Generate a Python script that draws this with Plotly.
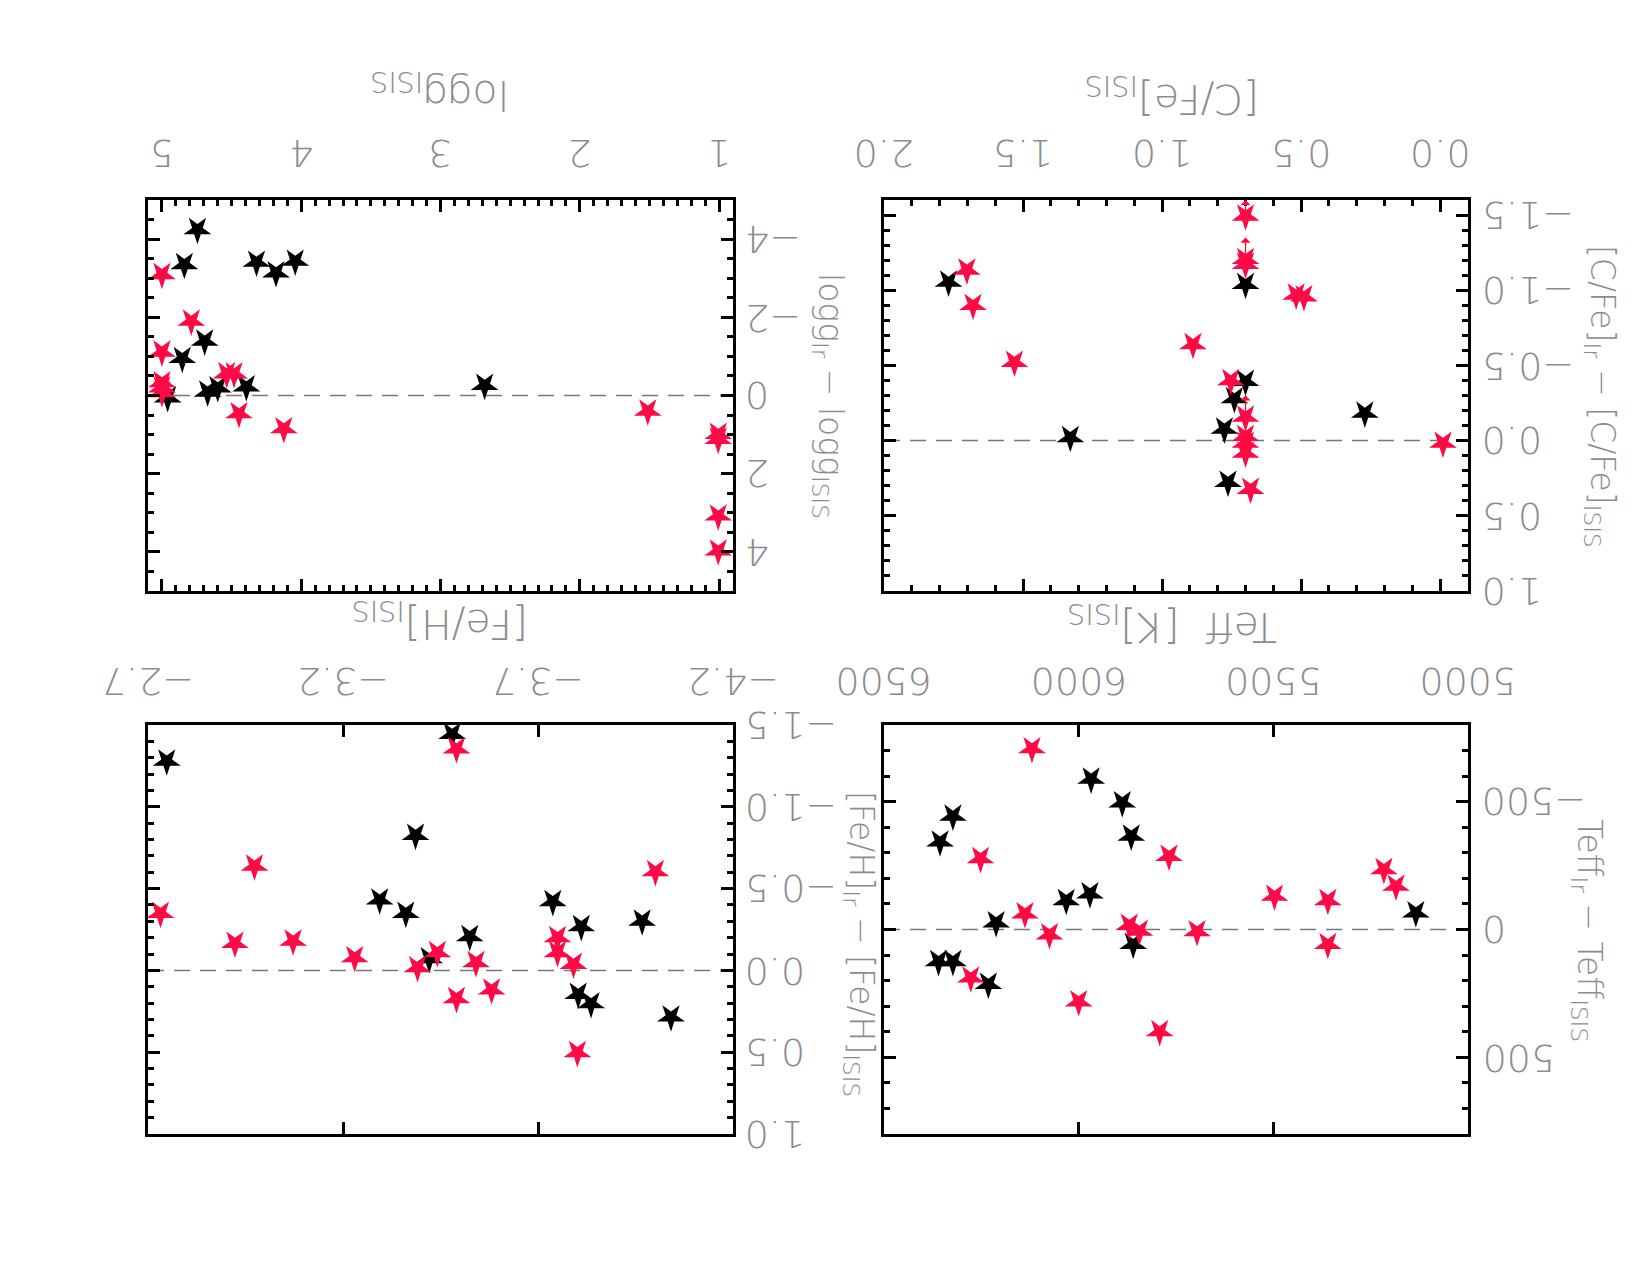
import plotly.graph_objects as go

# ---------------- data ----------------
# Panel A: [C/Fe]
cfe_black_x = [1.768, 0.700, 0.700, 0.740, 0.271, 0.776, 1.330, 0.763]
cfe_black_y = [-1.053, -1.038, -0.393, -0.278, -0.182, -0.076, -0.020, 0.278]
cfe_red_x = [1.702, 1.680, 1.531, 0.889, 0.700, 0.700, 0.700, 0.518, 0.490, 0.753,
             0.700, 0.700, 0.700, 0.700, 0.682, -0.010]
cfe_red_y = [-1.133, -0.898, -0.520, -0.638, -1.493, -1.204, -1.171, -0.967, -0.956, -0.398,
             -0.156, -0.027, 0.018, 0.084, 0.324, 0.018]
# upper-limit arrows (x, from y, to y)
cfe_lim_x = [0.700, 0.700, 0.700, 0.700]
cfe_lim_from = [-1.493, -1.171, 0.084, 0.018]
cfe_lim_to = [-1.60, -1.35, -0.30, -0.07]

# Panel B: log g
logg_black_x = [4.745, 4.839, 4.321, 4.181, 4.043, 4.693, 4.854, 4.672, 4.599, 4.394, 4.959, 2.683]
logg_black_y = [-4.242, -3.348, -3.407, -3.135, -3.433, -1.388, -0.945, -0.085, -0.196, -0.221, 0.060, -0.256]
logg_red_x = [5.0, 4.789, 5.0, 5.0, 5.0, 5.0, 4.535, 4.482, 4.447, 4.125, 1.512, 1.006, 1.006, 1.006, 1.006]
logg_red_y = [-3.092, -1.899, -1.107, -0.324, -0.196, -0.070, -0.554, -0.554, 0.468, 0.852, 0.400,
              0.997, 1.124, 3.083, 3.978]

# Panel C: Teff
teff_black_x = [6356, 6323, 5968, 5888, 5865, 5971, 6032, 6212, 5134, 5860, 6360, 6323, 6232]
teff_black_y = [-342, -443, -588, -495, -365, -139, -113, -26, -65, 59, 126, 126, 215]
teff_red_x = [6120, 6252, 5768, 6138, 6075, 5870, 5844, 5696, 5497, 5360, 5360, 5216, 5185, 6277, 6000, 5792]
teff_red_y = [-707, -277, -286, -61, 21, -16, 7, 9, -130, -113, 59, -234, -169, 190, 283, 400]

# Panel D: [Fe/H]
feh_black_x = [-2.748, -3.480, -3.386, -3.294, -3.361, -3.525, -3.421, -3.738, -3.811, -3.967, -3.803, -3.836, -4.041]
feh_black_y = [-1.279, -1.442, -0.825, -0.430, -0.348, -0.206, -0.071, -0.420, -0.267, -0.301, 0.147, 0.204, 0.285]
feh_red_x = [-3.491, -2.973, -2.732, -2.923, -3.072, -3.230, -3.391, -3.442, -3.541, -3.491, -3.581,
             -3.750, -3.750, -3.791, -4.001, -3.801]
feh_red_y = [-1.354, -0.637, -0.348, -0.165, -0.179, -0.077, -0.016, -0.108, -0.047, 0.173, 0.120,
             -0.200, -0.108, -0.037, -0.603, 0.503]

# tick values and labels
cfe_xticks = [0.0, 0.5, 1.0, 1.5, 2.0]
cfe_xlabels = ["0.0", "0.5", "1.0", "1.5", "2.0"]
cfe_yticks = [-1.5, -1.0, -0.5, 0.0, 0.5, 1.0]
cfe_ylabels = ["−1.5", "−1.0", "−0.5", "0.0", "0.5", "1.0"]
logg_xticks = [1, 2, 3, 4, 5]
logg_xlabels = ["1", "2", "3", "4", "5"]
logg_yticks = [-4, -2, 0, 2, 4]
logg_ylabels = ["−4", "−2", "0", "2", "4"]
teff_xticks = [5000, 5500, 6000, 6500]
teff_xlabels = ["5000", "5500", "6000", "6500"]
teff_yticks = [-500, 0, 500]
teff_ylabels = ["−500", "0", "500"]
feh_xticks = [-4.2, -3.7, -3.2, -2.7]
feh_xlabels = ["−4.2", "−3.7", "−3.2", "−2.7"]
feh_yticks = [-1.5, -1.0, -0.5, 0.0, 0.5, 1.0]
feh_ylabels = ["−1.5", "−1.0", "−0.5", "0.0", "0.5", "1.0"]

# ---------------- style ----------------
RED = "#FF0A45"
GRAY = "#8c8c8c"
FONT = "DejaVu Sans"
TICKFONT = dict(family=FONT, size=38, color=GRAY, weight=200)
XTITLEFONT = dict(family=FONT, size=41, color=GRAY, weight=200)
YTITLEFONT = dict(family=FONT, size=33, color=GRAY, weight=200)

fig = go.Figure()

def stars(x, y, color, xa, ya):
    fig.add_trace(go.Scatter(
        x=x, y=y, mode="markers", xaxis=xa, yaxis=ya, showlegend=False,
        marker=dict(symbol="star", size=21, angle=180, color=color, line=dict(width=0)),
        cliponaxis=False))

stars(cfe_black_x, cfe_black_y, "black", "x", "y")
stars(cfe_red_x, cfe_red_y, RED, "x", "y")
stars(logg_black_x, logg_black_y, "black", "x2", "y2")
stars(logg_red_x, logg_red_y, RED, "x2", "y2")
stars(teff_black_x, teff_black_y, "black", "x3", "y3")
stars(teff_red_x, teff_red_y, RED, "x3", "y3")
stars(feh_black_x, feh_black_y, "black", "x4", "y4")
stars(feh_red_x, feh_red_y, RED, "x4", "y4")

W, H = 1650, 1275
xr_dom = [884 / W, 1468 / W]
xl_dom = [148 / W, 733 / W]
yt_dom = [1 - 591 / H, 1 - 200 / H]
yb_dom = [1 - 1134 / H, 1 - 725 / H]

def common(minor):
    d = dict(ticks="inside", ticklen=12, tickwidth=2.5, tickcolor="black",
             showline=True, linewidth=3, linecolor="black", mirror="ticks",
             showgrid=False, zeroline=False, automargin=False, showticklabels=False)
    if minor:
        d["minor"] = dict(dtick=minor, ticks="inside", ticklen=6, tickwidth=2.5,
                          tickcolor="black", showgrid=False)
    return d

def xaxis(dom, rng, ticks, minor, anchor):
    d = common(minor)
    d.update(domain=dom, range=rng, side="top", anchor=anchor, tickmode="array", tickvals=ticks)
    return d

def yaxis(dom, rng, ticks, minor, anchor):
    d = common(minor)
    d.update(domain=dom, range=rng, side="right", anchor=anchor, tickmode="array", tickvals=ticks)
    return d

fig.update_layout(
    width=W, height=H, margin=dict(l=0, r=0, t=0, b=0),
    paper_bgcolor="white", plot_bgcolor="white",
    xaxis=xaxis(xr_dom, [2.0, -0.1], cfe_xticks, 0.1, "y"),
    yaxis=yaxis(yt_dom, [1.0, -1.6], cfe_yticks, 0.1, "x"),
    xaxis2=xaxis(xl_dom, [5.1, 0.9], logg_xticks, 0.1, "y2"),
    yaxis2=yaxis(yt_dom, [5, -5], logg_yticks, 0.5, "x2"),
    xaxis3=xaxis(xr_dom, [6500, 5000], teff_xticks, None, "y3"),
    yaxis3=yaxis(yb_dom, [800, -800], teff_yticks, 100, "x3"),
    xaxis4=xaxis(xl_dom, [-2.7, -4.2], feh_xticks, None, "y4"),
    yaxis4=yaxis(yb_dom, [1.0, -1.5], feh_yticks, 0.1, "x4"),
)

# dashed zero lines
for xa, ya, rng in [("x", "y", [2.0, -0.1]), ("x2", "y2", [5.1, 0.9]),
                    ("x3", "y3", [6500, 5000]), ("x4", "y4", [-2.7, -4.2])]:
    fig.add_shape(type="line", xref=xa, yref=ya, x0=rng[0], x1=rng[1], y0=0, y1=0,
                  line=dict(color="#777777", width=1.5, dash="16px,10px"), layer="below")

# limit arrows in panel A
for x0, y0, y1 in zip(cfe_lim_x, cfe_lim_from, cfe_lim_to):
    fig.add_annotation(x=x0, y=y1, ax=x0, ay=y0, xref="x", yref="y", axref="x", ayref="y",
                       showarrow=True, arrowhead=1, arrowsize=1.3, arrowwidth=1.3,
                       arrowcolor=RED, text="")

# tick labels, upside down like the reference
def xlabels(vals, labs, xref, ypx):
    for v, t in zip(vals, labs):
        fig.add_annotation(text=t, x=v, xref=xref, y=1 - ypx / H, yref="paper",
                           xanchor="center", yanchor="middle", showarrow=False,
                           textangle=180, font=TICKFONT)

def ylabels(vals, labs, yref, xpx):
    for v, t in zip(vals, labs):
        fig.add_annotation(text=t, y=v, yref=yref, x=xpx / W, xref="paper",
                           xanchor="left", yanchor="middle", showarrow=False,
                           textangle=180, font=TICKFONT)

xlabels(cfe_xticks, cfe_xlabels, "x", 153)
xlabels(logg_xticks, logg_xlabels, "x2", 153)
xlabels(teff_xticks, teff_xlabels, "x3", 681)
xlabels(feh_xticks, feh_xlabels, "x4", 681)
ylabels(cfe_yticks, cfe_ylabels, "y", 1480)
ylabels(logg_yticks, logg_ylabels, "y2", 743)
ylabels(teff_yticks, teff_ylabels, "y3", 1480)
ylabels(feh_yticks, feh_ylabels, "y4", 743)

# axis titles (rotated as in the reference)
titles = [
    ("[C/Fe]<sub>ISIS</sub>", 1172, 96, 180, XTITLEFONT),
    ("logg<sub>ISIS</sub>", 440, 92, 180, XTITLEFONT),
    ("Teff  [K]<sub>ISIS</sub>", 1172, 624, 180, XTITLEFONT),
    ("[Fe/H]<sub>ISIS</sub>", 440, 621, 180, XTITLEFONT),
    ("[C/Fe]<sub>Ir</sub> − [C/Fe]<sub>ISIS</sub>", 1600, 396, 90, YTITLEFONT),
    ("logg<sub>Ir</sub> − logg<sub>ISIS</sub>", 828, 396, 90, YTITLEFONT),
    ("Teff<sub>Ir</sub> − Teff<sub>ISIS</sub>", 1588, 930, 90, YTITLEFONT),
    ("[Fe/H]<sub>Ir</sub> − [Fe/H]<sub>ISIS</sub>", 860, 944, 90, YTITLEFONT),
]
for txt, px, py, ang, f in titles:
    fig.add_annotation(text=txt, x=px / W, y=1 - py / H, xref="paper", yref="paper",
                       xanchor="center", yanchor="middle", showarrow=False,
                       textangle=ang, font=f)

fig.write_html("out.html")
